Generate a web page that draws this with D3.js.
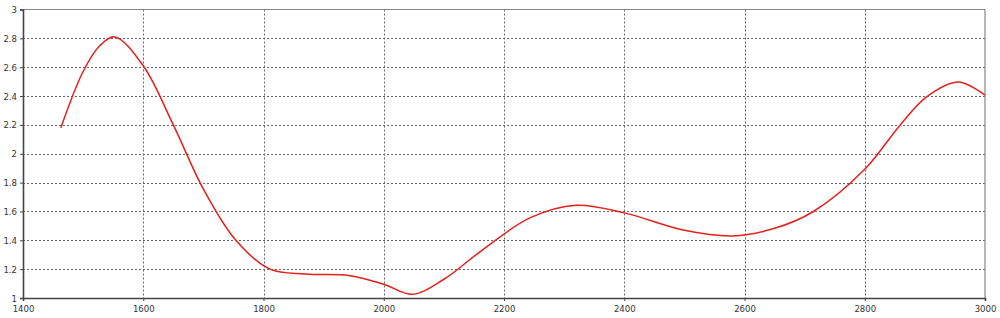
<!DOCTYPE html>
<html>
<head>
<meta charset="utf-8">
<script src="https://cdn.jsdelivr.net/npm/d3@7"></script>
<style>
  html, body { margin: 0; padding: 0; background: #fff; }
  svg { display: block; }
  .tick text { font-family: "DejaVu Sans Condensed", "DejaVu Sans", sans-serif; font-size: 9.5px; fill: #333; }
</style>
</head>
<body>
<div id="chart"></div>
<script>
// curve samples
const xs = [1463, 1500, 1528, 1553, 1600, 1650, 1700, 1754, 1811, 1870, 1944, 2000, 2048, 2100, 2160,
    2243, 2320, 2400, 2500, 2580, 2650, 2714, 2800, 2859, 2903, 2956, 3000]
const ys = [2.18, 2.57, 2.75, 2.81, 2.61, 2.20, 1.755, 1.40, 1.20, 1.166, 1.155, 1.095, 1.026, 1.13, 1.32,
    1.555, 1.643, 1.59, 1.469, 1.43, 1.483, 1.598, 1.892, 2.20, 2.395, 2.497, 2.407]

const x_ticks = [1400, 1600, 1800, 2000, 2200, 2400, 2600, 2800, 3000]
const y_ticks = [1, 1.2, 1.4, 1.6, 1.8, 2, 2.2, 2.4, 2.6, 2.8, 3]

const width = 1000, height = 318
const margin = {top: 9.5, right: 15, bottom: 20, left: 23}

const x = d3.scaleLinear().domain([1400, 3000]).range([margin.left, width - margin.right])
const y = d3.scaleLinear().domain([1, 3]).range([height - margin.bottom, margin.top])

const svg = d3.select("#chart").append("svg")
    .attr("width", width)
    .attr("height", height)

// grid
svg.append("g")
    .selectAll("line")
    .data(x_ticks.slice(1, -1))
    .join("line")
    .attr("x1", d => Math.round(x(d)) + 0.5)
    .attr("x2", d => Math.round(x(d)) + 0.5)
    .attr("y1", y(3))
    .attr("y2", y(1))
    .attr("stroke", "#666")
    .attr("stroke-dasharray", "2,2")

svg.append("g")
    .selectAll("line")
    .data(y_ticks.slice(1, -1))
    .join("line")
    .attr("x1", x(1400))
    .attr("x2", x(3000))
    .attr("y1", d => Math.round(y(d)) + 0.5)
    .attr("y2", d => Math.round(y(d)) + 0.5)
    .attr("stroke", "#666")
    .attr("stroke-dasharray", "2,2")

// frame: top and right lighter
svg.append("path")
    .attr("d", `M${x(1400)},${y(3)}H${x(3000)}V${y(1)}`)
    .attr("fill", "none")
    .attr("stroke", "#888")
    .attr("stroke-width", 1.2)

// axes
const xAxis = svg.append("g")
    .attr("transform", `translate(0,${y(1)})`)
    .call(d3.axisBottom(x).tickValues(x_ticks).tickFormat(d3.format("d")).tickSize(3).tickPadding(4))
const yAxis = svg.append("g")
    .attr("transform", `translate(${x(1400)},0)`)
    .call(d3.axisLeft(y).tickValues(y_ticks).tickFormat(d => d).tickSize(3).tickPadding(3))

for (const ax of [xAxis, yAxis]) {
    ax.select(".domain").attr("stroke", "#444").attr("stroke-width", 1.6)
    ax.selectAll(".tick line").attr("stroke", "#444")
}

// curve
const line = d3.line()
    .x(i => x(xs[i]))
    .y(i => y(ys[i]))
    .curve(d3.curveCatmullRom.alpha(0.5))

svg.append("path")
    .datum(d3.range(xs.length))
    .attr("d", line)
    .attr("fill", "none")
    .attr("stroke", "#e3201c")
    .attr("stroke-width", 1.5)
</script>
</body>
</html>
